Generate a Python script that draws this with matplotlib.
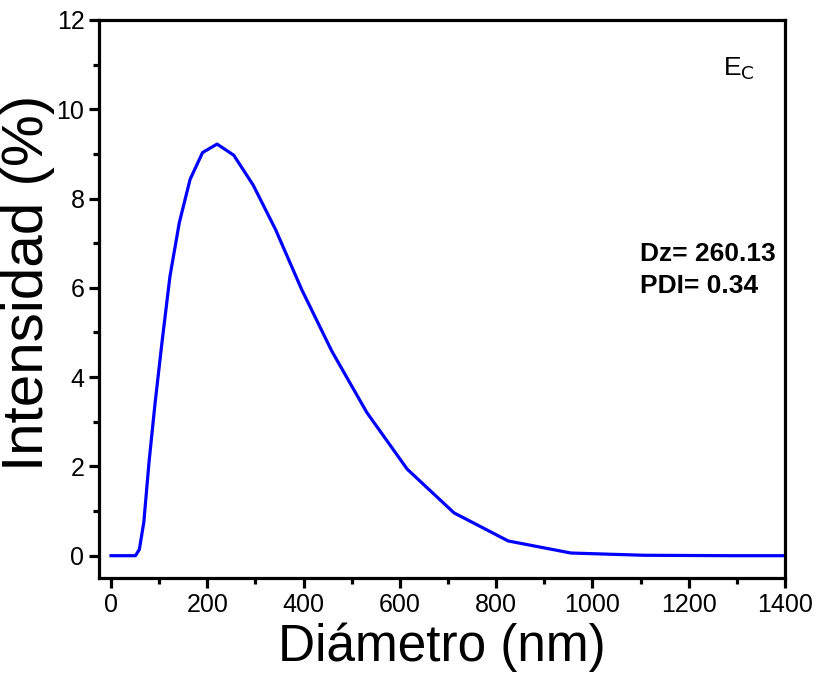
import numpy as np
import matplotlib.pyplot as plt

plt.rcParams['font.family'] = ['Liberation Sans', 'DejaVu Sans']

# DLS intensity distribution (Malvern size bins)
diametro = [0, 10, 20, 30, 43.82, 50.75, 58.77, 68.06, 78.82, 91.28, 105.7,
            122.4, 141.8, 164.2, 190.1, 220.2, 255.0, 295.3, 342.0, 396.1,
            458.7, 531.2, 615.1, 712.4, 825.0, 955.4, 1106, 1281, 1484]
intensidad = [0, 0, 0, 0, 0, 0, 0.14, 0.75, 2.09, 3.4, 4.77,
              6.26, 7.46, 8.43, 9.03, 9.22, 8.97, 8.30, 7.30, 5.96,
              4.58, 3.21, 1.94, 0.96, 0.33, 0.06, 0.01, 0, 0]

fig = plt.figure(figsize=(8.17, 6.91), dpi=100)
ax = fig.add_axes([0.1212, 0.1635, 0.8396, 0.8076])

ax.plot(diametro, intensidad, color='#0000ff', linewidth=2.3)

ax.set_xlim(-25, 1400)
ax.set_ylim(-0.5, 12)
ax.set_xticks(np.arange(0, 1401, 200))
ax.set_xticks(np.arange(100, 1400, 200), minor=True)
ax.set_yticks(np.arange(0, 13, 2))
ax.set_yticks(np.arange(1, 12, 2), minor=True)

for s in ax.spines.values():
    s.set_linewidth(2.3)
ax.tick_params(which='major', direction='out', length=7, width=2.3, labelsize=18)
ax.tick_params(which='minor', direction='out', length=4, width=2.3)

ax.set_xlabel('Diámetro (nm)', fontsize=37, labelpad=4)
ax.set_ylabel('Intensidad (%)', fontsize=42)
ax.yaxis.set_label_coords(-0.064, 0.528)

ax.text(0.91, 0.9, r'E$_\mathrm{C}$', transform=ax.transAxes, fontsize=19)
ax.text(0.788, 0.603, 'Dz= 260.13\nPDI= 0.34', transform=ax.transAxes,
        fontsize=19, fontweight='bold', linespacing=1.45, va='top')

fig.savefig('out.png', dpi=100)
